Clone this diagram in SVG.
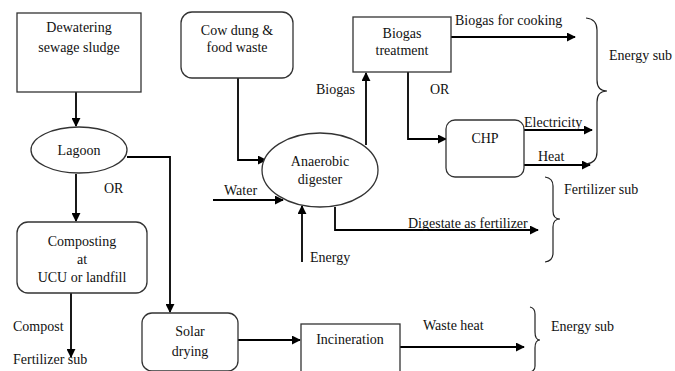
<svg xmlns="http://www.w3.org/2000/svg" width="675" height="371" viewBox="0 0 675 371">
<style>
.n{fill:#fff;stroke:#333;stroke-width:1.3}
.t{font-family:"Liberation Serif","Times New Roman",serif;font-size:14px;fill:#111}
.m{text-anchor:middle}
.c{fill:none;stroke:#000;stroke-width:1.8}
.b{fill:none;stroke:#222;stroke-width:1.2}
</style>
<defs>
<marker id="a" viewBox="0 0 10 10" refX="9" refY="5" markerWidth="5" markerHeight="5" orient="auto" markerUnits="strokeWidth">
<path d="M0,0 L10,5 L0,10 z" fill="#000"/>
</marker>
</defs>
<rect width="675" height="371" fill="#fff"/>
<g id="connectors">
<path class="c" d="M76,92 V126" marker-end="url(#a)"/>
<path class="c" d="M127,157 H170 V312" marker-end="url(#a)"/>
<path class="c" d="M76,174 V221" marker-end="url(#a)"/>
<path class="c" d="M71,293 V357" marker-end="url(#a)"/>
<path class="c" d="M238,340 H300" marker-end="url(#a)"/>
<path class="c" d="M400,347 H524" marker-end="url(#a)"/>
<path class="c" d="M238,78 V160 H266" marker-end="url(#a)"/>
<path class="c" d="M213,200 H283" marker-end="url(#a)"/>
<path class="c" d="M302,262 V206" marker-end="url(#a)"/>
<path class="c" d="M335,207 V230 H538" marker-end="url(#a)"/>
<path class="c" d="M366,145 V73" marker-end="url(#a)"/>
<path class="c" d="M451,37 H575" marker-end="url(#a)"/>
<path class="c" d="M408,72 V139 H446" marker-end="url(#a)"/>
<path class="c" d="M524,130 H592" marker-end="url(#a)"/>
<path class="c" d="M524,165 H590" marker-end="url(#a)"/>
</g>
<g id="dewatering"><rect class="n" x="17" y="13" width="124" height="79"/>
<text class="t m" x="79" y="32">Dewatering</text><text class="t m" x="79" y="52">sewage sludge</text></g>
<g id="lagoon"><ellipse class="n" cx="79" cy="150" rx="48" ry="23"/>
<text class="t m" x="79" y="155">Lagoon</text></g>
<g id="composting"><rect class="n" x="17" y="222" width="130" height="71" rx="11"/>
<text class="t m" x="82" y="246">Composting</text><text class="t m" x="82" y="264">at</text><text class="t m" x="82" y="282">UCU or landfill</text></g>
<g id="solar"><rect class="n" x="142" y="313" width="96" height="58" rx="10"/>
<text class="t m" x="190" y="336">Solar</text><text class="t m" x="190" y="356">drying</text></g>
<g id="incineration"><rect class="n" x="301" y="324" width="99" height="50"/>
<text class="t m" x="350" y="344">Incineration</text></g>
<g id="cowdung"><rect class="n" x="181" y="12" width="112" height="66" rx="11"/>
<text class="t m" x="237" y="35">Cow dung &amp;</text><text class="t m" x="237" y="52">food waste</text></g>
<g id="digester"><ellipse class="n" cx="320" cy="170" rx="58" ry="37"/>
<text class="t m" x="320" y="166">Anaerobic</text><text class="t m" x="320" y="184">digester</text></g>
<g id="treatment"><rect class="n" x="353" y="17" width="98" height="55"/>
<text class="t m" x="402" y="38">Biogas</text><text class="t m" x="402" y="55">treatment</text></g>
<g id="chp"><rect class="n" x="446" y="120" width="78" height="57" rx="9"/>
<text class="t m" x="485" y="143">CHP</text></g>
<g id="labels">
<text class="t" x="104" y="193">OR</text>
<text class="t" x="13" y="331">Compost</text>
<text class="t" x="13" y="364">Fertilizer sub</text>
<text class="t" x="224" y="195">Water</text>
<text class="t" x="310" y="262">Energy</text>
<text class="t" x="408" y="228">Digestate as fertilizer</text>
<text class="t" x="316" y="94">Biogas</text>
<text class="t" x="430" y="94">OR</text>
<text class="t" x="455" y="25">Biogas for cooking</text>
<text class="t" x="524" y="127">Electricity</text>
<text class="t" x="538" y="161">Heat</text>
<text class="t" x="609" y="60">Energy sub</text>
<text class="t" x="564" y="194">Fertilizer sub</text>
<text class="t" x="423" y="330">Waste heat</text>
<text class="t" x="551" y="331">Energy sub</text>
</g>
<g id="braces">
<path class="b" d="M586,18 Q597,19 597,30 V80 Q597,91 607,91 Q597,91 597,102 V152 Q597,163 586,164"/>
<path class="b" d="M545,177 Q553,178 553,186 V211 Q553,219 560,219 Q553,219 553,227 V253 Q553,261 545,262"/>
<path class="b" d="M530,307 Q535,308 535,314 V332 Q535,340 540,340 Q535,340 535,348 V366 Q535,371 530,372"/>
</g>
</svg>
